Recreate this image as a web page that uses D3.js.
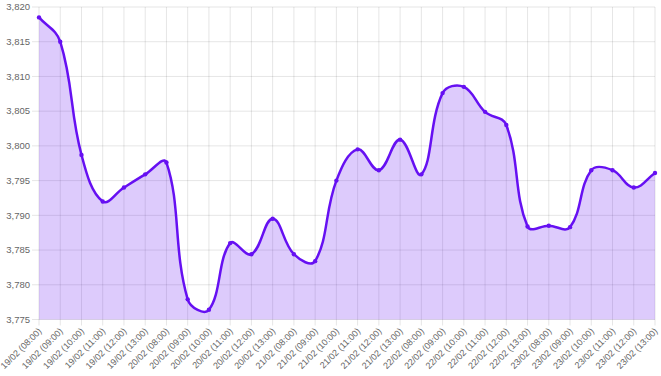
<!DOCTYPE html>
<html>
<head>
<meta charset="utf-8">
<script src="https://cdn.jsdelivr.net/npm/d3@7"></script>
<style>
  html, body { margin: 0; padding: 0; background: #fff; }
  svg { display: block; font-family: "Liberation Sans", Arial, Helvetica, sans-serif; }
</style>
</head>
<body>
<svg id="chart"></svg>
<script>
const days = ["19/02", "20/02", "21/02", "22/02", "23/02"];
const hours = ["08:00", "09:00", "10:00", "11:00", "12:00", "13:00"];
const labels = days.flatMap((d) => hours.map((h) => `${d} (${h})`));

const values = [
  3818.5, 3815.0, 3798.7, 3792.0, 3794.0, 3795.9,
  3797.6, 3777.9, 3776.4, 3786.0, 3784.4, 3789.5,
  3784.4, 3783.4, 3795.0, 3799.5, 3796.5, 3800.9,
  3795.9, 3807.6, 3808.5, 3804.9, 3803.0, 3788.4,
  3788.5, 3788.3, 3796.5, 3796.5, 3794.0, 3796.1
];

const yTicks = [3775, 3780, 3785, 3790, 3795, 3800, 3805, 3810, 3815, 3820];

const width = 661;
const height = 376;
const plotLeft = 39, plotRight = 655, plotTop = 7, plotBottom = 319.5;

const svg = d3.select("#chart").attr("width", width).attr("height", height);

const x = d3.scalePoint().domain(labels).range([plotLeft, plotRight]).padding(0);
const y = d3.scaleLinear().domain([3775, 3820]).range([plotBottom, plotTop]);

const gridColor = "rgba(0,0,0,0.1)";

// --- grid ---
svg.append("g")
  .selectAll("line")
  .data(yTicks)
  .join("line")
  .attr("x1", plotLeft - 7)
  .attr("x2", plotRight)
  .attr("y1", (d) => y(d))
  .attr("y2", (d) => y(d))
  .attr("stroke", gridColor)
  .attr("stroke-width", 1);

svg.append("g")
  .selectAll("line")
  .data(labels)
  .join("line")
  .attr("x1", (d) => x(d))
  .attr("x2", (d) => x(d))
  .attr("y1", plotTop)
  .attr("y2", plotBottom + 6)
  .attr("stroke", gridColor)
  .attr("stroke-width", 1);

// --- y labels ---
const fmt = d3.format(",");
svg.append("g")
  .selectAll("text")
  .data(yTicks)
  .join("text")
  .attr("x", plotLeft - 9)
  .attr("y", (d) => y(d))
  .attr("dy", "0.35em")
  .attr("text-anchor", "end")
  .style("font-size", "9.5px")
  .style("fill", "#666")
  .text((d) => fmt(d));

// --- x labels ---
svg.append("g")
  .selectAll("text")
  .data(labels)
  .join("text")
  .attr("transform", (d) => `translate(${x(d) + 1},${plotBottom + 10}) rotate(-45)`)
  .attr("dy", "0.35em")
  .attr("text-anchor", "end")
  .style("font-size", "9px")
  .style("fill", "#666")
  .text((d) => d);

// --- chart.js style spline ---
function ChartSpline(context) { this._context = context; }
ChartSpline.prototype = {
  areaStart() {},
  areaEnd() {},
  lineStart() { this._pts = []; },
  point(px, py) { this._pts.push([+px, +py]); },
  lineEnd() {
    const p = this._pts, c = this._context, t = 0.4;
    if (!p.length) return;
    const clamp = (v) => Math.max(plotTop, Math.min(plotBottom, v));
    const cps = p.map((pt, i) => {
      const prev = p[i - 1] || pt, next = p[i + 1] || pt;
      const d01 = Math.hypot(pt[0] - prev[0], pt[1] - prev[1]);
      const d12 = Math.hypot(next[0] - pt[0], next[1] - pt[1]);
      let s01 = d01 / (d01 + d12), s12 = d12 / (d01 + d12);
      if (isNaN(s01)) s01 = 0;
      if (isNaN(s12)) s12 = 0;
      const fa = t * s01, fb = t * s12;
      return {
        px: pt[0] - fa * (next[0] - prev[0]),
        py: clamp(pt[1] - fa * (next[1] - prev[1])),
        nx: pt[0] + fb * (next[0] - prev[0]),
        ny: clamp(pt[1] + fb * (next[1] - prev[1]))
      };
    });
    c.moveTo(p[0][0], p[0][1]);
    for (let i = 1; i < p.length; i++) {
      c.bezierCurveTo(cps[i - 1].nx, cps[i - 1].ny, cps[i].px, cps[i].py, p[i][0], p[i][1]);
    }
  }
};
const curveChart = (ctx) => new ChartSpline(ctx);

const data = labels.map((l, i) => ({ label: l, value: values[i] }));

const line = d3.line()
  .x((d) => x(d.label))
  .y((d) => y(d.value))
  .curve(curveChart);

const linePath = line(data);
const areaPath = linePath +
  `L${x(labels[labels.length - 1])},${plotBottom}L${x(labels[0])},${plotBottom}Z`;

const purple = "#6610f2";

svg.append("path")
  .attr("d", areaPath)
  .attr("fill", "rgba(102,16,242,0.22)");

svg.append("path")
  .attr("d", linePath)
  .attr("fill", "none")
  .attr("stroke", purple)
  .attr("stroke-width", 2.5);

svg.append("g")
  .selectAll("circle")
  .data(data)
  .join("circle")
  .attr("cx", (d) => x(d.label))
  .attr("cy", (d) => y(d.value))
  .attr("r", 2.2)
  .attr("fill", purple);
</script>
</body>
</html>
